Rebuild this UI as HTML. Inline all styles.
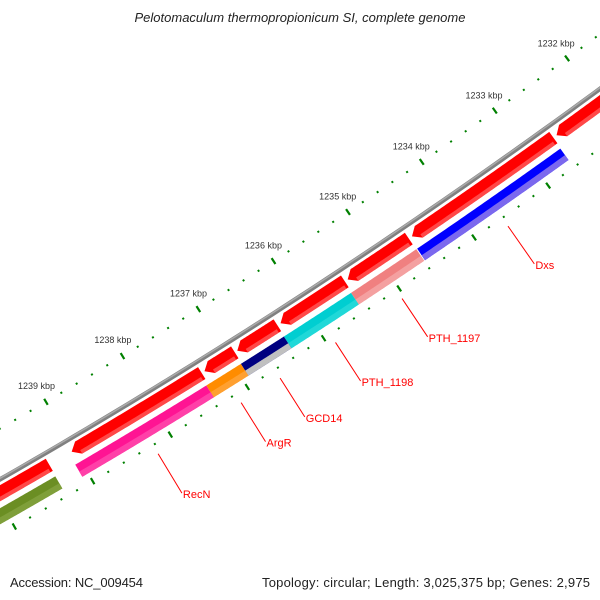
<!DOCTYPE html>
<html><head><meta charset="utf-8"><style>
html,body{margin:0;padding:0;background:#fff;width:600px;height:600px;overflow:hidden}
svg{display:block;font-family:"Liberation Sans",sans-serif}
</style></head><body>
<svg id="map" width="600" height="600" viewBox="0 0 600 600" xmlns="http://www.w3.org/2000/svg">
<rect x="0" y="0" width="600" height="600" fill="#fff"/>
<g id="plot"></g>
<text x="300" y="22" text-anchor="middle" font-size="13" font-style="italic" fill="#222">Pelotomaculum thermopropionicum SI, complete genome</text>
<text x="10" y="587" font-size="13" fill="#222" textLength="133">Accession: NC_009454</text>
<text x="590" y="587" font-size="13" fill="#222" text-anchor="end" textLength="328">Topology: circular; Length: 3,025,375 bp; Genes: 2,975</text>
</svg>
<script>
const genomeLength = 3025375;
const tickLabelsKbp = [1231, 1232, 1233, 1234, 1235, 1236, 1237, 1238, 1239, 1240];
const forwardStarts = [1231000, 1232644, 1234603, 1235458, 1236352, 1236913, 1237346, 1239323];
const forwardEnds   = [1232600, 1234560, 1235420, 1236310, 1236880, 1237310, 1239035, 1240600];
const reverseNames  = ["Dxs", "PTH_1197", "PTH_1198", "GCD14", "ArgR", "RecN", ""];
const reverseStarts = [1232652, 1234600, 1235471, 1236359, 1236924, 1237375, 1239330];
const reverseEnds   = [1234589, 1235471, 1236359, 1236924, 1237375, 1239074, 1240600];
const reverseColors = ["#0000ff", "#f08080", "#00ced1", "#000080", "#ff8c00", "#ff1493", "#6b8e23"];
const reverseColors2 = ["#7b68ee", "#f4a0a0", "#20d8d8", "#c0c0c0", "#ffa030", "#ff40a8", "#7f9f3a"];

// zoomed view geometry
const R0 = 6200;
const PX_PER_BP = 0.0892;
const TH0 = 146.2*Math.PI/180;
const CX = 348 - R0*Math.sin(TH0);
const CY = 212 + R0*Math.cos(TH0);
function P(bp, r){ const th = TH0 + (bp-1235000)*PX_PER_BP/R0; return [CX+(R0+r)*Math.sin(th), CY-(R0+r)*Math.cos(th)]; }
const NS = "http://www.w3.org/2000/svg";
const plot = document.getElementById('plot');
function mk(tag, attrs){ const e=document.createElementNS(NS,tag); for(const k in attrs) e.setAttribute(k,attrs[k]); plot.appendChild(e); return e; }
function arcPts(b1,b2,r){ const pts=[]; const n=60; for(let i=0;i<=n;i++){ pts.push(P(b1+(b2-b1)*i/n, r)); } return pts; }
function bandPath(b1,b2,r1,r2){ const a=arcPts(b1,b2,r1), b=arcPts(b2,b1,r2); return 'M'+a.concat(b).map(p=>p[0].toFixed(2)+','+p[1].toFixed(2)).join('L')+'Z'; }
function line(p,q,attrs){ return mk('line', Object.assign({x1:p[0],y1:p[1],x2:q[0],y2:q[1]},attrs)); }

[0, 92].forEach((ring)=>{
  for(let bp=1230600; bp<=1241000; bp+=200){
    const major = bp % 1000 === 0;
    const h = major ? 3.5 : 1;
    const t = line(P(bp, ring-h), P(bp, ring+h), {stroke:'#008000','stroke-width':major?2.2:2});
    
    
  }
});
tickLabelsKbp.forEach(k=>{
  const p = P(k*1000, -18.5);
  const t = mk('text', {x:p[0], y:p[1]+3, 'text-anchor':'middle', 'font-size':9, fill:'#333'});
  t.textContent = k + ' kbp';
  
  
});

const bb = arcPts(1230600, 1241000, 44);
const b1 = mk('path', {d:'M'+bb.map(p=>p[0].toFixed(2)+','+p[1].toFixed(2)).join('L'), fill:'none', stroke:'#808080', 'stroke-width':4.5});


const bb2 = arcPts(1230600, 1241000, 43);
const b2 = mk('path', {d:'M'+bb2.map(p=>p[0].toFixed(2)+','+p[1].toFixed(2)).join('L'), fill:'none', stroke:'#aaa', 'stroke-width':1.5});



forwardStarts.forEach((s,i)=>{
  const e = forwardEnds[i];
  const head = 90;
  const r1=49, r2=63, rm=56;
  const a = arcPts(s, e-head, r1), b = arcPts(e-head, s, r2);
  const tip = P(e, rm);
  const pts = a.concat([tip]).concat(b);
  const d = 'M'+pts.map(p=>p[0].toFixed(2)+','+p[1].toFixed(2)).join('L')+'Z';
  const f = mk('path', {d:d, fill:'#ff0000'});
  
  
  const hl = mk('path', {d:bandPath(s+30, e-head, 59, 63), fill:'#ff5a5a', opacity:0.8});
  
  
});

reverseStarts.forEach((s,i)=>{
  const e = reverseEnds[i];
  const f = mk('path', {d:bandPath(s, e, 69, 83), fill:reverseColors[i]});
  
  
  const lo = mk('path', {d:bandPath(s, e, 77, 83), fill:reverseColors2[i]});
  
  
  const name = reverseNames[i];
  if(name){
    const mid = (s+e)/2;
    const p = P(mid, 102), q = P(mid, 148);
    const l = line(p, q, {stroke:'#ff0000', 'stroke-width':1});
    
    
    const t = mk('text', {x:q[0]+1, y:q[1]+5, 'font-size':11, fill:'#ff0000'});
    t.textContent = name;
    
    
  }
});
</script>
</body></html>
